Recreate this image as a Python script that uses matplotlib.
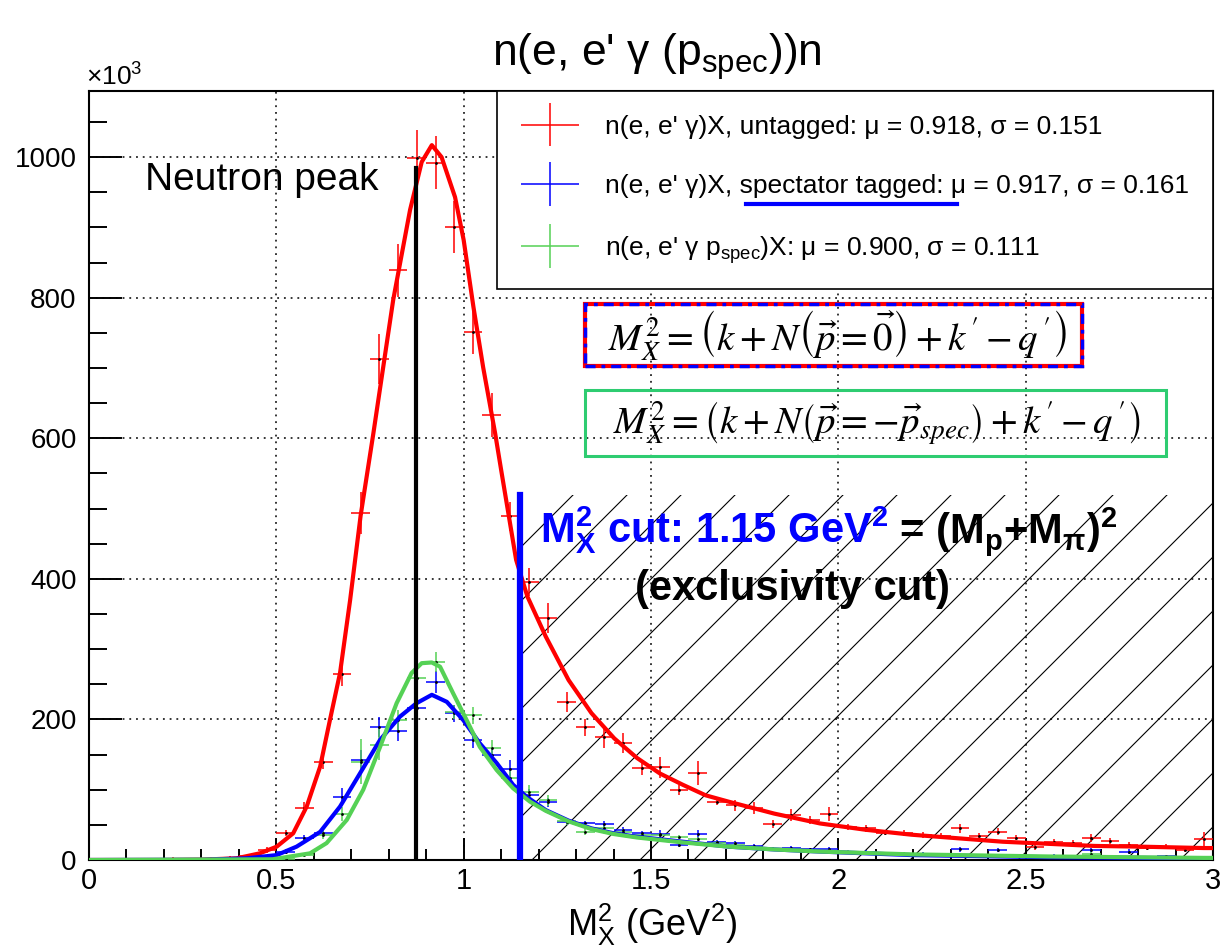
import numpy as np
import matplotlib
matplotlib.use('Agg')
import matplotlib.pyplot as plt
from matplotlib.collections import LineCollection
from matplotlib.patches import Rectangle
from matplotlib.lines import Line2D
from matplotlib.legend_handler import HandlerErrorbar
from matplotlib.container import ErrorbarContainer

plt.rcParams['font.family'] = ['Liberation Sans', 'DejaVu Sans']
plt.rcParams['mathtext.fontset'] = 'custom'
plt.rcParams['mathtext.rm'] = 'Liberation Sans'
plt.rcParams['mathtext.it'] = 'Liberation Sans:italic'
plt.rcParams['mathtext.bf'] = 'Liberation Sans:bold'

# histogram bins: 60 bins of 0.05 between 0 and 3 GeV^2
bin_centers = np.arange(60) * 0.05 + 0.025
bin_half = 0.025

# counts in units of 10^3
red_counts = [0, 0, 0, 0, 2, 1, 2, 3, 6, 14,
              38, 74, 139, 265, 494, 713, 839, 999, 992, 900,
              751, 633, 489, 396, 344, 225, 189, 175, 166, 131,
              132, 100, 124, 83, 78, 74, 51, 64, 57, 66,
              47, 45, 39, 38, 36, 34, 45, 34, 40, 32,
              19, 26, 24, 31, 27, 21, 17, 19, 14, 30]
red_err = [0, 0, 0, 0, 2, 1, 2, 2, 3, 4,
           4, 9, 9, 17, 30, 36, 38, 40, 38, 37,
           31, 31, 21, 20, 21, 14, 12, 15, 14, 10,
           15, 7, 17, 5, 8, 8, 6, 8, 6, 10,
           4, 5, 4, 4, 4, 4, 6, 4, 5, 4,
           5, 4, 4, 6, 4, 4, 3, 4, 3, 10]

blue_counts = [0, 0, 0, 0, 0, 0, 0, 1, 2, 4,
               12, 31, 39, 90, 142, 189, 184, 216, 253, 209,
               171, 150, 130, 93, 82, 54, 52, 51, 43, 38,
               37, 21, 37, 25, 24, 20, 16, 17, 15, 16,
               11, 12, 10, 9, 9, 8, 15, 7, 14, 6,
               5, 6, 5, 14, 5, 12, 4, 5, 3, 4]
blue_err = [0, 0, 0, 0, 0, 0, 0, 1, 1, 2,
            3, 5, 6, 12, 14, 14, 14, 12, 16, 12,
            12, 10, 12, 8, 6, 4, 4, 4, 4, 3,
            5, 3, 6, 3, 3, 3, 2, 3, 2, 3,
            2, 2, 2, 2, 2, 2, 3, 2, 3, 2,
            2, 2, 2, 3, 2, 3, 2, 2, 2, 2]

green_counts = [0, 0, 0, 0, 0, 0, 0, 0, 0, 1,
                2, 7, 36, 65, 140, 164, 199, 259, 282, 211,
                206, 159, 117, 97, 85, 55, 40, 45, 40, 35,
                35, 33, 30, 24, 22, 18, 16, 15, 14, 12,
                12, 10, 10, 9, 8, 8, 7, 7, 6, 6,
                5, 5, 5, 9, 4, 4, 4, 3, 3, 3]
green_err = [0, 0, 0, 0, 0, 0, 0, 0, 0, 1,
             2, 3, 6, 10, 32, 22, 14, 14, 14, 10,
             12, 12, 10, 10, 8, 5, 4, 4, 4, 3,
             3, 3, 3, 3, 3, 2, 2, 2, 2, 2,
             2, 2, 2, 2, 2, 2, 2, 2, 2, 2,
             2, 2, 2, 3, 2, 2, 2, 2, 2, 2]

# fit curves
red_fit_x = [0.0, 0.2, 0.3, 0.394, 0.456, 0.501, 0.545, 0.581, 0.617, 0.643,
             0.670, 0.697, 0.725, 0.759, 0.812, 0.857, 0.888, 0.915, 0.941, 0.977,
             1.0, 1.026, 1.052, 1.084, 1.10, 1.14, 1.170, 1.219, 1.280, 1.341,
             1.402, 1.463, 1.524, 1.585, 1.646, 1.707, 1.829, 1.951, 2.073, 2.195,
             2.317, 2.439, 2.561, 2.684, 2.806, 2.976, 3.0]
red_fit_y = [0, 0, 0.5, 2.4, 9.5, 19, 38, 76, 133, 199,
             266, 370, 490, 607, 797, 925, 993, 1017, 1000, 943,
             882, 787, 701, 607, 555, 427, 375, 318, 256, 209,
             173, 145, 123, 107, 92, 83, 66, 52, 43, 36,
             31, 26, 23, 20, 19, 17, 17]

blue_fit_x = [0.0, 0.3, 0.421, 0.501, 0.554, 0.617, 0.670, 0.723, 0.777, 0.830,
              0.874, 0.915, 0.955, 0.999, 1.043, 1.088, 1.132, 1.168, 1.219, 1.28,
              1.341, 1.40, 1.463, 1.585, 1.707, 1.83, 1.951, 2.195, 2.561, 2.976, 3.0]
blue_fit_y = [0, 0.3, 2.4, 7, 19, 40, 76, 123, 171, 204,
              223, 235, 225, 199, 166, 138, 107, 90, 71, 56,
              45, 38, 33, 26, 19, 15, 12, 7, 4, 2.4, 2.3]

green_fit_x = [0.0, 0.49, 0.59, 0.634, 0.688, 0.732, 0.777, 0.821, 0.861, 0.888,
               0.915, 0.937, 0.972, 1.008, 1.043, 1.088, 1.132, 1.177, 1.219, 1.28,
               1.341, 1.40, 1.463, 1.585, 1.707, 1.83, 1.951, 2.195, 2.561, 2.976, 3.0]
green_fit_y = [0, 1, 9.5, 24, 57, 100, 161, 223, 266, 280,
               281, 275, 237, 199, 161, 128, 102, 83, 70, 55,
               44, 37, 32, 25, 19, 15, 12, 8, 5, 3, 3]

labels = ["n(e, e' γ)X, untagged: μ = 0.918, σ = 0.151",
          "n(e, e' γ)X, spectator tagged: μ = 0.917, σ = 0.161",
          "n(e, e' γ p$_{\\mathrm{spec}}$)X: μ = 0.900, σ = 0.111"]

peak_line_x = 0.873
peak_line_top = 984
cut_value = 1.15
cut_line_top = 519

red = '#ff0000'
blue = '#0000ff'
green = '#55d155'

W, H = 1224, 952
def fx(px):
    return px / W
def fy(py):
    return 1 - py / H

fig = plt.figure(figsize=(12.24, 9.52), dpi=100)
ax = fig.add_axes([fx(89), fy(860), 1124 / W, 769 / H])
ax.set_xlim(0, 3)
ax.set_ylim(0, 1094)

# grid
grid_style = dict(color='k', lw=1.1, linestyle=(0, (1.2, 3.2)), zorder=1)
for gx in [0.5, 1, 1.5, 2, 2.5]:
    ax.axvline(gx, **grid_style)
for gy in [200, 400, 600, 800, 1000]:
    ax.axhline(gy, **grid_style)

# hatched exclusivity region
aspect = 1124 / 769
segs = []
for k in range(-20, 25):
    x0 = 0.10587 + k * 0.04804
    segs.append([(x0, 0), (x0 + 1 / aspect, 1)])
lc = LineCollection(segs, transform=ax.transAxes, colors='k', linewidths=0.8, zorder=2)
clip = Rectangle((cut_value, 0), 3 - cut_value, cut_line_top, transform=ax.transData)
ax.add_collection(lc)
lc.set_clip_path(clip)

# data points
e_red = ax.errorbar(bin_centers, red_counts, xerr=bin_half, yerr=red_err, fmt='none',
                    ecolor=red, elinewidth=1.1, capsize=0, zorder=3)
e_blue = ax.errorbar(bin_centers, blue_counts, xerr=bin_half, yerr=blue_err, fmt='none',
                     ecolor=blue, elinewidth=1.1, capsize=0, zorder=3)
e_green = ax.errorbar(bin_centers, green_counts, xerr=bin_half, yerr=green_err, fmt='none',
                      ecolor=green, elinewidth=1.1, capsize=0, zorder=3)
for counts in [red_counts, blue_counts, green_counts]:
    ax.plot(bin_centers, counts, 'k.', ms=2, zorder=3.5)

# fits
ax.plot(red_fit_x, red_fit_y, color=red, lw=3, zorder=4)
ax.plot(blue_fit_x, blue_fit_y, color=blue, lw=3, zorder=4)
ax.plot(green_fit_x, green_fit_y, color=green, lw=3, zorder=4)

# neutron peak line and cut line
ax.plot([peak_line_x, peak_line_x], [0, peak_line_top], color='k', lw=3, zorder=5)
ax.plot([cut_value, cut_value], [0, cut_line_top], color=blue, lw=4.5, zorder=5)

ax.text(0.149, 953, 'Neutron peak', fontsize=28, va='baseline', zorder=6)

t1 = ax.text(1.204, 451, r'M$_{\mathbf{X}}^{\mathbf{2}}$ cut: 1.15 GeV$^{\mathbf{2}}$',
             color=blue, fontsize=30, fontweight='bold', va='baseline', zorder=6)
fig.canvas.draw()
bb = t1.get_window_extent(fig.canvas.get_renderer())
x_end = ax.transData.inverted().transform((bb.x1, bb.y0))[0]
ax.text(x_end, 451, r' = (M$_{\mathbf{p}}$+M$_{\mathbf{\pi}}$)$^{\mathbf{2}}$',
        color='k', fontsize=30, fontweight='bold', va='baseline', zorder=6)
ax.text(1.457, 370, '(exclusivity cut)', color='k', fontsize=30, fontweight='bold',
        va='baseline', zorder=6)

# axes styling
ax.set_xticks([0, 0.5, 1, 1.5, 2, 2.5, 3])
ax.set_xticklabels(['0', '0.5', '1', '1.5', '2', '2.5', '3'])
ax.set_xticks(np.arange(0, 3.01, 0.1), minor=True)
ax.set_yticks([0, 200, 400, 600, 800, 1000])
ax.set_yticks(np.arange(0, 1094, 50), minor=True)
ax.tick_params(axis='x', which='major', direction='in', length=16, width=1.4, labelsize=21, pad=5)
ax.tick_params(axis='x', which='minor', direction='in', length=8, width=1.4)
ax.tick_params(axis='y', which='major', direction='in', length=24, width=1.4, labelsize=20, pad=9)
ax.tick_params(axis='y', which='minor', direction='in', length=13, width=1.4)
for sp in ax.spines.values():
    sp.set_linewidth(1.5)

leg = ax.legend([e_red, e_blue, e_green], labels, loc='upper right', bbox_to_anchor=(1, 1),
                borderaxespad=0, fontsize=19, frameon=True, fancybox=False,
                edgecolor='black', framealpha=1, handlelength=2.2, handletextpad=1.0,
                labelspacing=1.35, borderpad=0.9,
                handler_map={ErrorbarContainer: HandlerErrorbar(xerr_size=1.1, yerr_size=0.83)})
leg.get_frame().set_linewidth(1.2)
leg.set_zorder(7)

# underline in legend
fig.add_artist(Line2D([fx(746), fx(957)], [fy(204), fy(204)], color=blue, lw=3))

# formula boxes
fig.add_artist(Rectangle((fx(585), fy(366)), (1082 - 585) / W, (366 - 304) / H,
                         transform=fig.transFigure, fill=False, ec=red, lw=3))
fig.add_artist(Rectangle((fx(585), fy(366)), (1082 - 585) / W, (366 - 304) / H,
                         transform=fig.transFigure, fill=False, ec=blue, lw=2.5,
                         linestyle=(0, (2.9, 1.7, 1.1, 1.7))))
fig.add_artist(Rectangle((fx(585), fy(456)), (1166 - 585) / W, (456 - 390) / H,
                         transform=fig.transFigure, fill=False, ec='#2ecc71', lw=2.2))
fig.text(fx(837), fy(336),
         r"$M_{X}^{2}=\left(k+N\left(\vec{p}=\vec{0}\right)+k\,'-q\,'\right)$",
         fontsize=28, ha='center', va='center', math_fontfamily='stix')
fig.text(fx(877), fy(424),
         r"$M_{X}^{2}=\left(k+N\left(\vec{p}=-\vec{p}_{spec}\right)+k\,'-q\,'\right)$",
         fontsize=28, ha='center', va='center', math_fontfamily='stix')

# titles
fig.text(fx(657), fy(66), "n(e, e' γ (p$_{\\mathrm{spec}}$))n", ha='center', va='baseline', fontsize=32)
fig.text(fx(86), fy(86), "×10$^{3}$", ha='left', va='baseline', fontsize=19)
fig.text(fx(652), fy(936), "M$_{\\mathrm{X}}^{2}$ (GeV$^{2}$)", ha='center', va='baseline', fontsize=26)

fig.savefig('out.png', dpi=100)
